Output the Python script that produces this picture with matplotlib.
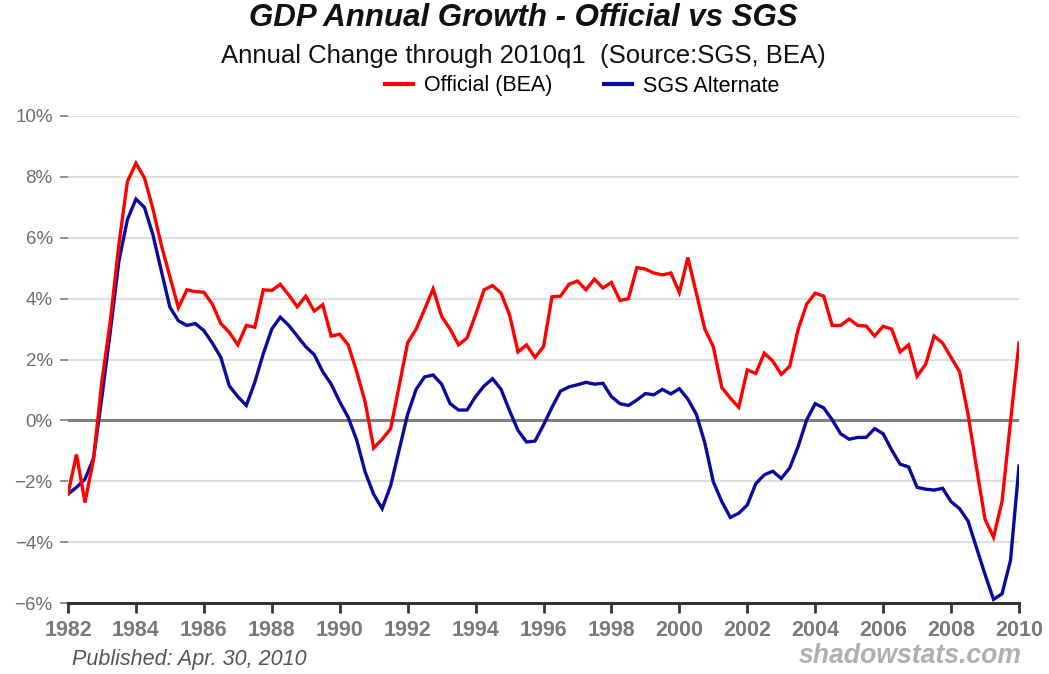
import numpy as np
import matplotlib
matplotlib.use("Agg")
import matplotlib.pyplot as plt
from matplotlib.lines import Line2D

# quarterly year-over-year GDP growth, 1982q1 .. 2010q1
official = [
    -2.42, -1.12, -2.70, -1.28,
    1.30, 3.30, 5.80, 7.85,
    8.45, 7.97, 6.95, 5.75,
    4.72, 3.70, 4.29, 4.23,
    4.21, 3.82, 3.18, 2.89,
    2.48, 3.12, 3.06, 4.29,
    4.27, 4.47, 4.12, 3.73,
    4.08, 3.59, 3.80, 2.77,
    2.83, 2.48, 1.60, 0.60,
    -0.91, -0.62, -0.27, 1.13,
    2.55, 3.00, 3.65, 4.32,
    3.42, 3.00, 2.48, 2.71,
    3.47, 4.29, 4.43, 4.18,
    3.47, 2.25, 2.48, 2.07,
    2.42, 4.06, 4.08, 4.47,
    4.58, 4.29, 4.64, 4.35,
    4.53, 3.94, 4.00, 5.02,
    4.97, 4.84, 4.78, 4.84,
    4.20, 5.35, 4.18, 3.00,
    2.42, 1.08, 0.73, 0.43,
    1.66, 1.54, 2.21, 1.95,
    1.51, 1.78, 3.00, 3.82,
    4.18, 4.08, 3.12, 3.12,
    3.33, 3.12, 3.10, 2.77,
    3.09, 3.00, 2.25, 2.48,
    1.45, 1.84, 2.77, 2.54,
    2.07, 1.60, 0.20, -1.56,
    -3.25, -3.84, -2.67, -0.04,
    2.54,
]
sgs = [
    -2.42, -2.20, -1.93, -1.25,
    0.78, 2.96, 5.24, 6.60,
    7.27, 7.00, 6.10, 4.90,
    3.72, 3.27, 3.12, 3.18,
    2.95, 2.54, 2.07, 1.13,
    0.78, 0.49, 1.25, 2.19,
    3.00, 3.39, 3.12, 2.77,
    2.42, 2.16, 1.60, 1.19,
    0.61, 0.10, -0.65, -1.70,
    -2.43, -2.90, -2.14, -0.97,
    0.20, 1.02, 1.43, 1.49,
    1.19, 0.55, 0.34, 0.34,
    0.78, 1.13, 1.37, 1.02,
    0.32, -0.33, -0.71, -0.68,
    -0.15, 0.43, 0.96, 1.10,
    1.17, 1.25, 1.19, 1.22,
    0.78, 0.55, 0.49, 0.67,
    0.88, 0.84, 1.02, 0.87,
    1.04, 0.70, 0.20, -0.74,
    -2.02, -2.67, -3.19, -3.05,
    -2.78, -2.08, -1.79, -1.67,
    -1.91, -1.56, -0.85, 0.02,
    0.55, 0.41, 0.02, -0.44,
    -0.62, -0.56, -0.56, -0.27,
    -0.44, -0.97, -1.44, -1.53,
    -2.20, -2.26, -2.29, -2.23,
    -2.67, -2.90, -3.31, -4.19,
    -5.06, -5.88, -5.70, -4.60,
    -1.50,
]
start_year = 1982
x_ticks = list(range(1982, 2011, 2))
y_ticks = list(range(-6, 11, 2))

quarters = start_year + np.arange(len(official)) / 4.0

font = "Liberation Sans"
red, blue = "#ff0000", "#0a0aa0"

fig = plt.figure(figsize=(10.49, 6.74), dpi=100)
ax = fig.add_axes([68 / 1049, 1 - 603 / 674, 951 / 1049, 487 / 674])

ax.plot(quarters, official, color=red, lw=2.4, solid_joinstyle="miter", zorder=4)
ax.plot(quarters, sgs, color=blue, lw=2.4, solid_joinstyle="miter", zorder=3)

ax.set_xlim(1982, 2010)
ax.set_ylim(-6, 10)
ax.set_yticks(y_ticks)
ax.set_yticklabels([f"{v}%".replace("-", "\u2212") for v in y_ticks],
                   family=font, fontsize=13.5, color="#6e6e6e")
ax.set_xticks(x_ticks)
ax.set_xticklabels([str(t) for t in x_ticks], family=font,
                   fontsize=15.5, fontweight="bold", color="#7a7a7a")

ax.yaxis.grid(True, color="#dedede", lw=1.5)
ax.set_axisbelow(True)
ax.axhline(0, color="#808080", lw=2.2, zorder=2)

for s in ("top", "right", "left"):
    ax.spines[s].set_visible(False)
ax.spines["bottom"].set_color("#333333")
ax.spines["bottom"].set_linewidth(2.2)
ax.tick_params(axis="x", length=7, width=2, color="#333333", pad=5)
ax.tick_params(axis="y", length=6, width=1.3, color="#888888", pad=5)

fig.text(0.499, 1 - 18 / 674, "GDP Annual Growth - Official vs SGS", ha="center", va="center",
         family=font, fontsize=22.5, fontweight="bold", style="italic", color="#111111")
fig.text(0.499, 1 - 56 / 674, "Annual Change through 2010q1  (Source:SGS, BEA)", ha="center",
         va="center", family=font, fontsize=18.5, color="#111111")

handles = [Line2D([], [], color=red, lw=3), Line2D([], [], color=blue, lw=3)]
fig.legend(handles, ["Official (BEA)", "SGS Alternate"], loc="center",
           bbox_to_anchor=(582 / 1049, 1 - 86 / 674), ncol=2, frameon=False,
           handlelength=1.3, handletextpad=0.5, columnspacing=2.4,
           prop={"family": font, "size": 15.5})

fig.text(72 / 1049, 1 - 660 / 674, "Published: Apr. 30, 2010", ha="left", va="center",
         family=font, fontsize=15.5, style="italic", color="#555555")
fig.text(1022 / 1049, 1 - 656 / 674, "shadowstats.com", ha="right", va="center",
         family=font, fontsize=19.2, fontweight="bold", style="italic", color="#b0b0b0")

fig.savefig("out.png", dpi=100)
